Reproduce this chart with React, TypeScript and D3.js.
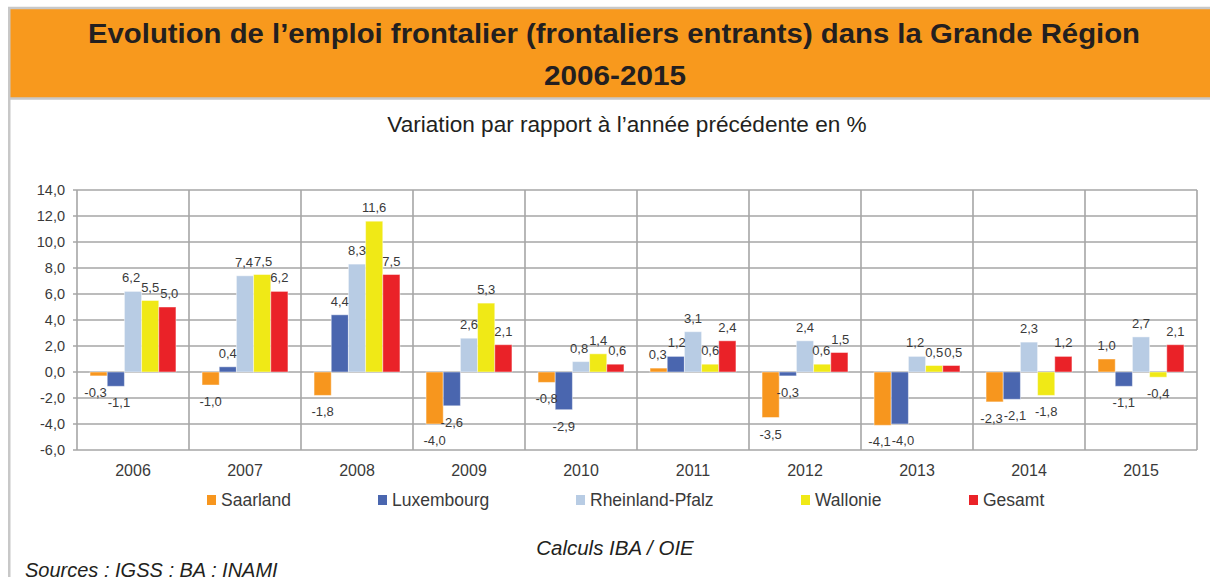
import React from "react";
import * as d3 from "d3";

const years = ["2006", "2007", "2008", "2009", "2010", "2011", "2012", "2013", "2014", "2015"];
const seriesNames = ["Saarland", "Luxembourg", "Rheinland-Pfalz", "Wallonie", "Gesamt"];
const seriesColors = ["#F7961E", "#4A66AF", "#B8CCE4", "#F0E916", "#EA2228"];
const saarland = [-0.3, -1.0, -1.8, -4.0, -0.8, 0.3, -3.5, -4.1, -2.3, 1.0];
const luxembourg = [-1.1, 0.4, 4.4, -2.6, -2.9, 1.2, -0.3, -4.0, -2.1, -1.1];
const rheinlandPfalz = [6.2, 7.4, 8.3, 2.6, 0.8, 3.1, 2.4, 1.2, 2.3, 2.7];
const wallonie = [5.5, 7.5, 11.6, 5.3, 1.4, 0.6, 0.6, 0.5, -1.8, -0.4];
const gesamt = [5.0, 6.2, 7.5, 2.1, 0.6, 2.4, 1.5, 0.5, 1.2, 2.1];
const yTicks = [-6, -4, -2, 0, 2, 4, 6, 8, 10, 12, 14];

const titleLine1 = "Evolution de l\u2019emploi frontalier (frontaliers entrants) dans la Grande R\u00e9gion";
const titleLine2 = "2006-2015";
const subtitle = "Variation par rapport \u00e0 l\u2019ann\u00e9e pr\u00e9c\u00e9dente en %";
const credit = "Calculs IBA / OIE";
const sources = "Sources : IGSS ; BA ; INAMI";

const allSeries = [saarland, luxembourg, rheinlandPfalz, wallonie, gesamt];
const legendX = [207, 378, 576, 801, 969];

const fmt = (v: number) => v.toFixed(1).replace(".", ",");

const LABEL_FS = 13;
const labelWidth = (s: string) => {
  let w = 0;
  for (const c of s) w += c === "," ? 0.278 : c === "-" ? 0.333 : 0.556;
  return w * LABEL_FS;
};

type Lab = { x: number; y: number; text: string; w: number };

function spread(labels: Lab[]): Lab[] {
  const out = labels.map((l) => ({ ...l }));
  for (let iter = 0; iter < 20; iter++) {
    let moved = false;
    for (let a = 0; a < out.length; a++) {
      for (let b = a + 1; b < out.length; b++) {
        const A = out[a], B = out[b];
        if (Math.abs(A.y - B.y) >= 12) continue;
        const need = (A.w + B.w) / 2 + 1;
        const d = B.x - A.x;
        if (Math.abs(d) < need) {
          const push = (need - Math.abs(d)) / 2;
          const sgn = d >= 0 ? 1 : -1;
          A.x -= push * sgn;
          B.x += push * sgn;
          moved = true;
        }
      }
    }
    if (!moved) break;
  }
  return out;
}

export default function App() {
  const W = 1210, H = 577;
  const left = 77, right = 1197, top = 190, bottom = 450;
  const x = d3.scaleBand<string>().domain(years).range([left, right]).paddingInner(0).paddingOuter(0);
  const xi = d3.scaleBand<string>().domain(seriesNames).range([0, x.bandwidth()]).paddingInner(0).paddingOuter(0.76);
  const y = d3.scaleLinear().domain([-6, 14]).range([bottom, top]);
  const font = "'Liberation Sans', Arial, sans-serif";
  const grid = "#a6a6a6";
  const txt = "#3a3a3a";

  return (
    <svg width={W} height={H} style={{ position: "absolute", left: 0, top: 0, background: "#fff" }} fontFamily={font}>
      {/* header */}
      <rect x={9.25} y={8} width={W} height={90.5} fill="#F8991D" stroke="#c8c8c8" strokeWidth={2.5} />
      <line x1={9.25} x2={9.25} y1={98} y2={H} stroke="#c8c8c8" strokeWidth={2.5} />
      <text x={614} y={43} textAnchor="middle" fontSize={28} fontWeight="bold" fill="#231f20"
        textLength={1052} lengthAdjust="spacingAndGlyphs">{titleLine1}</text>
      <text x={615} y={85} textAnchor="middle" fontSize={28} fontWeight="bold" fill="#231f20"
        textLength={142} lengthAdjust="spacingAndGlyphs">{titleLine2}</text>
      <text x={627} y={132} textAnchor="middle" fontSize={22.6} fill="#231f20">{subtitle}</text>

      {/* horizontal gridlines */}
      {yTicks.map((t) => (
        <g key={t}>
          <line x1={left - 4} x2={right} y1={y(t)} y2={y(t)} stroke={grid} strokeWidth={1.6} />
          <text x={65} y={y(t)} dy="0.36em" textAnchor="end" fontSize={14.5} fill={txt}>{fmt(t)}</text>
        </g>
      ))}
      {/* vertical gridlines */}
      {years.map((yr) => (
        <line key={yr} x1={x(yr)!} x2={x(yr)!} y1={top} y2={bottom} stroke={grid} strokeWidth={1.6} />
      ))}
      <line x1={right} x2={right} y1={top} y2={bottom} stroke={grid} strokeWidth={1.6} />

      {/* bars */}
      {years.map((yr, i) => {
        const labels = spread(
          allSeries.map((s, k) => {
            const v = s[i];
            const t = fmt(v);
            return {
              x: xi(seriesNames[k])! + xi.bandwidth() / 2,
              y: v >= 0 ? y(v) - 9 : y(v) + 21,
              text: t,
              w: labelWidth(t),
            };
          })
        );
        return (
          <g key={yr} transform={`translate(${x(yr)},0)`}>
            {allSeries.map((s, k) => {
              const v = s[i];
              const y0 = y(0), y1 = y(v);
              return (
                <rect key={k} x={xi(seriesNames[k])!} width={xi.bandwidth()}
                  y={Math.min(y0, y1)} height={Math.abs(y1 - y0)}
                  fill={seriesColors[k]} stroke="#ffffff" strokeOpacity={0.45} strokeWidth={1} />
              );
            })}
            {labels.map((l, k) => (
              <text key={"l" + k} x={l.x} y={l.y} textAnchor="middle" fontSize={LABEL_FS} fill={txt}>{l.text}</text>
            ))}
          </g>
        );
      })}

      {/* x labels */}
      {years.map((yr) => (
        <text key={"x" + yr} x={x(yr)! + x.bandwidth() / 2} y={476} textAnchor="middle" fontSize={16} fill={txt}>{yr}</text>
      ))}

      {/* legend */}
      {seriesNames.map((n, k) => (
        <g key={n}>
          <rect x={legendX[k]} y={495} width={9} height={10} fill={seriesColors[k]} />
          <text x={legendX[k] + 14} y={506} fontSize={17.5} fill={txt}>{n}</text>
        </g>
      ))}

      <text x={615} y={555} textAnchor="middle" fontSize={20.5} fontStyle="italic" fill="#231f20">{credit}</text>
      <text x={25} y={577} fontSize={20} fontStyle="italic" fill="#231f20">{sources}</text>
    </svg>
  );
}
